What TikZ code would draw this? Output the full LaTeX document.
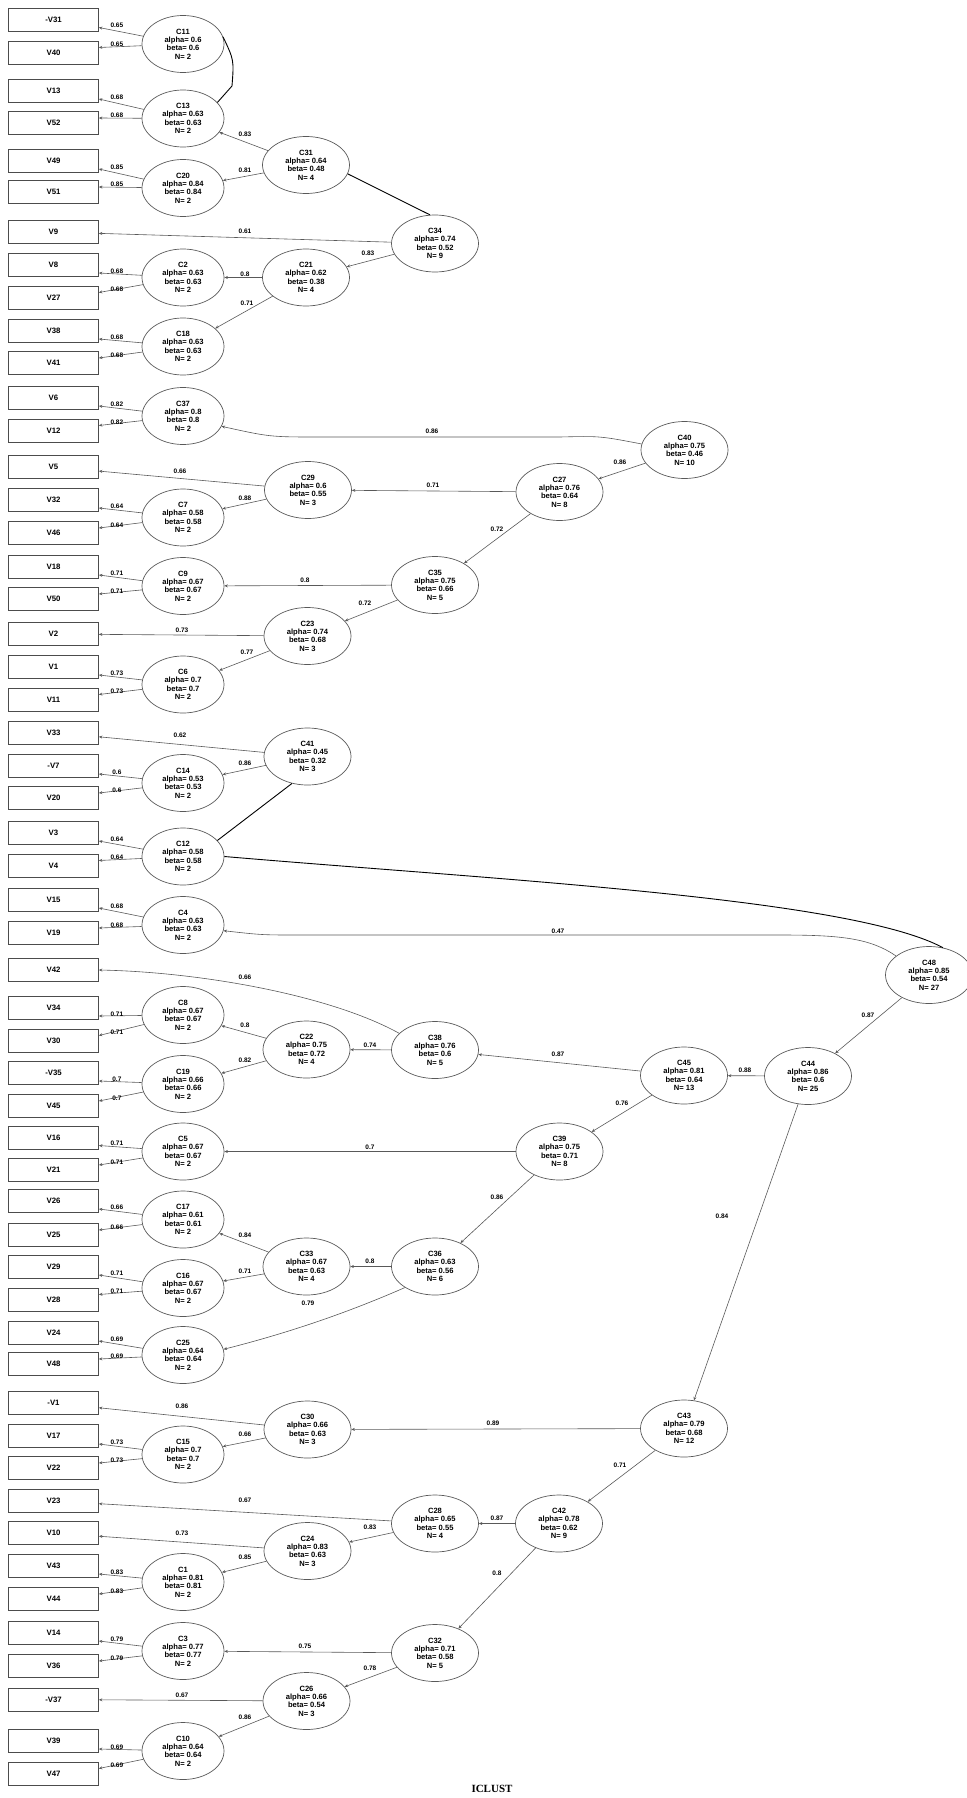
\documentclass[tikz,border=0pt]{standalone}
\usepackage{fontspec}
\setmainfont{Liberation Sans}
\newfontfamily\titlefont{Liberation Serif}
\usetikzlibrary{arrows.meta,shapes.geometric}
\begin{document}
\begin{tikzpicture}[x=1pt,y=-1pt,
  vbox/.style={draw=black!70, line width=0.7pt, minimum width=90pt, minimum height=23pt, inner sep=0pt, font=\fontsize{7.8}{8}\selectfont\bfseries},
  leaf/.style={ellipse, draw=black!65, line width=0.7pt, minimum width=82pt, minimum height=57pt, inner sep=0pt, align=center, font=\fontsize{7.6}{8.4}\selectfont\bfseries},
  clus/.style={leaf, minimum width=87pt},
  edge/.style={draw=black!65, line width=0.6pt, -{Stealth[length=3.5pt,width=3pt]}},
  lab/.style={font=\fontsize{6.5}{7}\selectfont\bfseries, inner sep=0.5pt},
  heavy/.style={draw=black, line width=0.9pt}]
\useasboundingbox (0,0) rectangle (966,1798);
% variable boxes
\foreach \i/\t/\yy in {1/-V31/19.5, 2/V40/52.5, 3/V13/91, 4/V52/123, 5/V49/161, 6/V51/192,
  7/V9/232, 8/V8/265, 9/V27/297.5, 10/V38/331, 11/V41/363, 12/V6/398, 13/V12/430.5,
  14/V5/467, 15/V32/500, 16/V46/533, 17/V18/567, 18/V50/599, 19/V2/634, 20/V1/667,
  21/V11/699.5, 22/V33/732.5, 23/-V7/766, 24/V20/798, 25/V3/833, 26/V4/865.5,
  27/V15/900, 28/V19/933, 29/V42/970, 30/V34/1008, 31/V30/1040.5, 32/-V35/1073,
  33/V45/1106, 34/V16/1137.5, 35/V21/1170, 36/V26/1201, 37/V25/1235, 38/V29/1267,
  39/V28/1299.5, 40/V24/1333, 41/V48/1364, 42/-V1/1403, 43/V17/1436, 44/V22/1468,
  45/V23/1501, 46/V10/1533, 47/V43/1566, 48/V44/1599, 49/V14/1633, 50/V36/1666,
  51/-V37/1699.5, 52/V39/1741, 53/V47/1773.5}
  \node[vbox] (b\i) at (53.5,\yy) {\t};
% leaf clusters
\foreach \cn/\al/\ld/\yy/\p/\q in {C11/0.6/0.65/44/1/2, C13/0.63/0.68/118.5/3/4,
  C20/0.84/0.85/188/5/6, C2/0.63/0.68/277.5/8/9, C18/0.63/0.68/346.5/10/11,
  C37/0.8/0.82/416/12/13, C7/0.58/0.64/517.5/15/16, C9/0.67/0.71/586/17/18,
  C6/0.7/0.73/684.5/20/21, C14/0.53/0.6/783/23/24, C12/0.58/0.64/856.5/25/26,
  C4/0.63/0.68/925/27/28, C8/0.67/0.71/1015/30/31, C19/0.66/0.7/1084/32/33,
  C5/0.67/0.71/1151.5/34/35, C17/0.61/0.66/1219.5/36/37, C16/0.67/0.71/1288/38/39,
  C25/0.64/0.69/1355/40/41, C15/0.7/0.73/1454.5/43/44, C1/0.81/0.83/1582/47/48,
  C3/0.77/0.79/1651/49/50, C10/0.64/0.69/1751/52/53}
{
  \node[leaf] (\cn) at (183,\yy) {\cn\\alpha= \al\\beta= \al\\N= 2};
  \draw[edge] (\cn) -- ([yshift=-8pt]b\p.east) node[lab] at ([xshift=18pt,yshift=-6pt]b\p.east) {\ld};
  \draw[edge] (\cn) -- ([yshift=5pt]b\q.east) node[lab] at ([xshift=18pt,yshift=8pt]b\q.east) {\ld};
}
% internal clusters
\foreach \cn/\xx/\yy/\al/\be/\nn in {C31/306/165/0.64/0.48/4, C34/435/243.5/0.74/0.52/9,
  C21/306/277.5/0.62/0.38/4, C40/684.5/450/0.75/0.46/10, C29/308/490/0.6/0.55/3,
  C27/559.5/492/0.76/0.64/8, C35/435/585/0.75/0.66/5, C23/307.5/636/0.74/0.68/3,
  C41/307.5/756.5/0.45/0.32/3, C48/929/975/0.85/0.54/27, C22/306.5/1049.5/0.75/0.72/4,
  C38/435/1050/0.76/0.6/5, C45/684/1075.5/0.81/0.64/13, C44/808/1076/0.86/0.6/25,
  C39/559.5/1151.5/0.75/0.71/8, C33/306.5/1266.5/0.67/0.63/4, C36/435/1266.5/0.63/0.56/6,
  C30/307.5/1429.5/0.66/0.63/3, C43/684/1428.5/0.79/0.68/12, C28/435/1523.5/0.65/0.55/4,
  C42/559/1523.5/0.78/0.62/9, C24/307.5/1551/0.83/0.63/3, C32/435/1653/0.71/0.58/5,
  C26/306.5/1701/0.66/0.54/3}
  \node[clus] (\cn) at (\xx,\yy) {\cn\\alpha= \al\\beta= \be\\N= \nn};
% straight labelled edges
\foreach \s/\t/\ld/\lx/\ly in {C31/C13/0.83/245/134, C31/C20/0.81/245/170,
  C34/b7/0.61/245/231, C34/C21/0.83/368/253, C21/C2/0.8/245/274, C21/C18/0.71/247/303,
  C40/C27/0.86/620/462, C27/C29/0.71/433/485, C29/b14/0.66/180/471, C29/C7/0.88/245/498,
  C27/C35/0.72/497/529, C35/C9/0.8/305/580, C35/C23/0.72/365/603, C23/b19/0.73/182/630,
  C23/C6/0.77/247/652, C41/b22/0.62/180/735, C41/C14/0.86/245/763,
  C38/C22/0.74/370/1045, C22/C8/0.8/245/1025, C22/C19/0.82/245/1060,
  C45/C38/0.87/558/1054, C44/C45/0.88/745/1070, C48/C44/0.87/868/1015,
  C45/C39/0.76/622/1103, C39/C5/0.7/370/1147, C39/C36/0.86/497/1197,
  C36/C33/0.8/370/1261, C33/C17/0.84/245/1235, C33/C16/0.71/245/1271,
  C44/C43/0.84/722/1216, C43/C30/0.89/493/1423, C30/b42/0.86/182/1406,
  C30/C15/0.66/245/1434, C43/C42/0.71/620/1465, C42/C28/0.87/497/1518,
  C28/b45/0.67/245/1500, C28/C24/0.83/370/1527, C24/b46/0.73/182/1533,
  C24/C1/0.85/245/1557, C42/C32/0.8/497/1573, C32/C3/0.75/305/1646,
  C32/C26/0.78/370/1668, C26/b51/0.67/182/1695, C26/C10/0.86/245/1717}
  \draw[edge] (\s) -- (\t) node[lab] at (\lx,\ly) {\ld};
% curved labelled edges
\draw[edge] (C40.172) .. controls (600,436) .. (560,437) -- (320,437) .. controls (270,437) .. (C37.345)
  node[lab] at (432,431) {0.86};
\draw[edge] (C48.150) .. controls (870,938) and (840,935) .. (780,935) -- (300,935) .. controls (262,935) .. (C4.352)
  node[lab] at (558,931) {0.47};
\draw[edge] (C38.155) .. controls (330,995) and (200,972) .. (b29.east)
  node[lab] at (245,977) {0.66};
\draw[edge] (C36.215) .. controls (340,1316) and (280,1335) .. (C25.8)
  node[lab] at (308,1303) {0.79};
% unlabelled heavy lines
\draw[heavy] (C11.10) .. controls (234,60) .. (232,86) -- (C13.25);
\draw[heavy] (C31.-12) -- (C34.100);
\draw[heavy] (C41.240) -- (C12.25);
\draw[heavy] (C12.east) .. controls (500,880) and (850,898) .. (C48.63);
% title
\node[font=\titlefont\fontsize{11}{12}\selectfont\bfseries] (title) at (492,1789) {ICLUST};
\end{tikzpicture}
\end{document}
